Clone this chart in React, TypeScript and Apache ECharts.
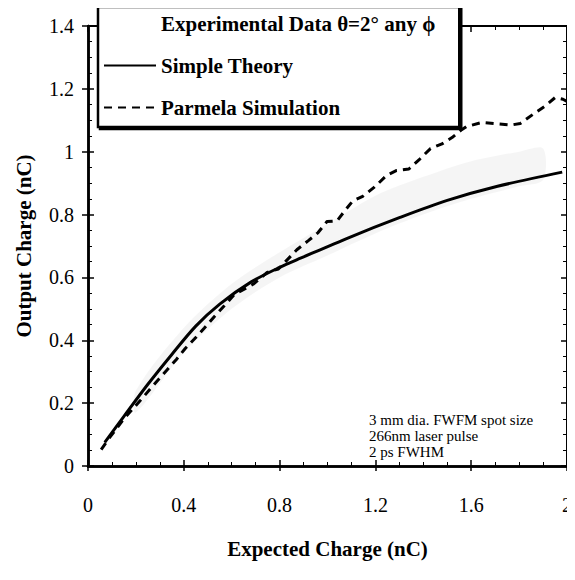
import React, { useEffect, useRef } from "react";
import * as echarts from "echarts";

const FONT = "'Liberation Serif', 'DejaVu Serif', serif";

// Simple theory curve (solid)
const theoryX = [0.07, 0.15, 0.25, 0.35, 0.45, 0.55, 0.68, 0.8, 0.89, 1.09, 1.3, 1.5, 1.71, 1.98];
const theoryY = [0.075, 0.158, 0.26, 0.355, 0.445, 0.515, 0.585, 0.632, 0.662, 0.727, 0.79, 0.845, 0.89, 0.935];

// Parmela simulation (dashed)
const parmelaX = [0.055, 0.086, 0.15, 0.22, 0.286, 0.327, 0.369, 0.406, 0.444, 0.486, 0.527, 0.569, 0.61, 0.693, 0.748, 0.795, 0.872, 0.92, 0.96, 0.998, 1.04, 1.07, 1.105, 1.147, 1.197, 1.246, 1.287, 1.34, 1.383, 1.43, 1.478, 1.52, 1.56, 1.58, 1.644, 1.768, 1.805, 1.86, 1.91, 1.95, 1.983, 2.0];
const parmelaY = [0.052, 0.086, 0.15, 0.21, 0.268, 0.303, 0.339, 0.374, 0.404, 0.439, 0.475, 0.51, 0.545, 0.58, 0.616, 0.627, 0.688, 0.717, 0.742, 0.778, 0.78, 0.81, 0.843, 0.858, 0.888, 0.924, 0.94, 0.945, 0.975, 1.01, 1.025, 1.045, 1.07, 1.08, 1.093, 1.085, 1.09, 1.12, 1.146, 1.172, 1.167, 1.16];

// Experimental data band (faint stipple region)
const bandX = [0.2, 0.4, 0.6, 0.8, 1.0, 1.2, 1.4, 1.6, 1.8, 1.9];
const bandLow = [0.17, 0.36, 0.5, 0.6, 0.67, 0.74, 0.8, 0.85, 0.89, 0.91];
const bandHigh = [0.24, 0.44, 0.58, 0.68, 0.77, 0.86, 0.92, 0.97, 1.0, 1.01];

const xTicks = ["0", "0.4", "0.8", "1.2", "1.6", "2"];
const yTicks = ["0", "0.2", "0.4", "0.6", "0.8", "1", "1.2", "1.4"];

const EXP = "Experimental Data θ=2° any ϕ";
const THEORY = "Simple Theory";
const PARMELA = "Parmela Simulation";
const NOTE = ["3 mm dia. FWFM spot size", "266nm laser pulse", "2 ps FWHM"];

export default function App() {
  const ref = useRef<HTMLDivElement>(null);
  useEffect(() => {
    if (!ref.current) return;
    const chart = echarts.init(ref.current, undefined, { renderer: "svg" });
    const xMax = Number(xTicks[xTicks.length - 1]);
    const yMax = Number(yTicks[yTicks.length - 1]);
    const baseX = {
      type: "value",
      min: 0,
      max: xMax,
      interval: 0.4,
      splitLine: { show: false },
      axisLine: { show: true, onZero: false, lineStyle: { color: "#000", width: 2.5 } },
    };
    const baseY = {
      type: "value",
      min: 0,
      max: yMax,
      interval: 0.2,
      splitLine: { show: false },
      axisLine: { show: true, onZero: false, lineStyle: { color: "#000", width: 2.5 } },
    };
    const inner = {
      axisTick: { show: true, inside: true, length: 6, lineStyle: { color: "#000", width: 1.5 } },
      minorTick: { show: true, splitNumber: 4, length: 4, lineStyle: { color: "#000", width: 1 } },
      axisLabel: { show: false },
    };
    const option: any = {
      animation: false,
      backgroundColor: "#fff",
      grid: { left: 88, right: 5, top: 26, bottom: 114, containLabel: false },
      xAxis: [
        {
          ...baseX,
          position: "bottom",
          name: "Expected Charge (nC)",
          nameLocation: "middle",
          nameGap: 72,
          nameTextStyle: { fontFamily: FONT, fontWeight: "bold", fontSize: 21, color: "#000" },
          axisTick: { show: true, inside: false, length: 5, lineStyle: { color: "#000", width: 1.5 } },
          axisLabel: {
            fontFamily: FONT,
            fontSize: 20,
            color: "#000",
            margin: 29,
            formatter: (v: number) => xTicks[Math.round(v / 0.4)] ?? "",
          },
        },
        { ...baseX, position: "bottom", ...inner },
        {
          ...baseX,
          position: "top",
          axisLine: { show: true, onZero: false, lineStyle: { color: "#000", width: 2 } },
          ...inner,
        },
      ],
      yAxis: [
        {
          ...baseY,
          position: "left",
          name: "Output Charge (nC)",
          nameLocation: "middle",
          nameGap: 54,
          nameTextStyle: { fontFamily: FONT, fontWeight: "bold", fontSize: 21, color: "#000" },
          axisTick: { show: true, inside: false, length: 6, lineStyle: { color: "#000", width: 1.5 } },
          axisLabel: {
            fontFamily: FONT,
            fontSize: 20,
            color: "#000",
            margin: 14,
            formatter: (v: number) => yTicks[Math.round(v / 0.2)] ?? "",
          },
        },
        { ...baseY, position: "left", ...inner },
        {
          ...baseY,
          position: "right",
          axisLine: { show: true, onZero: false, lineStyle: { color: "#000", width: 2 } },
          ...inner,
        },
      ],
      legend: {
        left: 98,
        top: 7,
        orient: "vertical",
        padding: [6, 24, 9, 5],
        itemGap: 21,
        itemWidth: 52,
        itemHeight: 14,
        borderColor: "#000",
        borderWidth: 2.5,
        backgroundColor: "#fff",
        shadowColor: "#000",
        shadowBlur: 0,
        shadowOffsetX: 2,
        shadowOffsetY: 2,
        textStyle: { fontFamily: FONT, fontWeight: "bold", fontSize: 21, color: "#000" },
        data: [
          { name: EXP, icon: "rect", itemStyle: { opacity: 0 } },
          { name: THEORY, itemStyle: { opacity: 0 } },
          { name: PARMELA, itemStyle: { opacity: 0 } },
        ],
      },
      graphic: [
        {
          type: "text",
          left: 369,
          top: 412,
          z: 10,
          style: {
            text: NOTE.join("\n"),
            fontFamily: FONT,
            fontSize: 15,
            lineHeight: 16,
            fill: "#000",
          },
        },
      ],
      series: [
        {
          name: EXP,
          type: "custom",
          silent: true,
          itemStyle: { color: "rgba(0,0,0,0.04)" },
          encode: { x: 0, y: [1, 2] },
          data: bandX.map((x, i) => [x, bandLow[i], bandHigh[i]]),
          renderItem: (params: any, api: any) => {
            if (params.dataIndex !== 0) return null;
            const upper = bandX.map((x, i) => api.coord([x, bandHigh[i]]));
            const lower = bandX.map((x, i) => api.coord([x, bandLow[i]])).reverse();
            return {
              type: "polygon",
              shape: { points: upper.concat(lower), smooth: 0.3 },
              style: { fill: "rgba(0,0,0,0.04)" },
            };
          },
        },
        {
          name: THEORY,
          type: "line",
          symbol: "none",
          smooth: 0.3,
          itemStyle: { color: "#000" },
          lineStyle: { color: "#000", width: 3 },
          data: theoryX.map((x, i) => [x, theoryY[i]]),
        },
        {
          name: PARMELA,
          type: "line",
          symbol: "none",
          itemStyle: { color: "#000" },
          lineStyle: { color: "#000", width: 3, type: [8, 6] },
          data: parmelaX.map((x, i) => [x, parmelaY[i]]),
        },
      ],
    };
    chart.setOption(option);
    return () => chart.dispose();
  }, []);
  return <div ref={ref} style={{ width: 575, height: 580, margin: -8 }} />;
}
